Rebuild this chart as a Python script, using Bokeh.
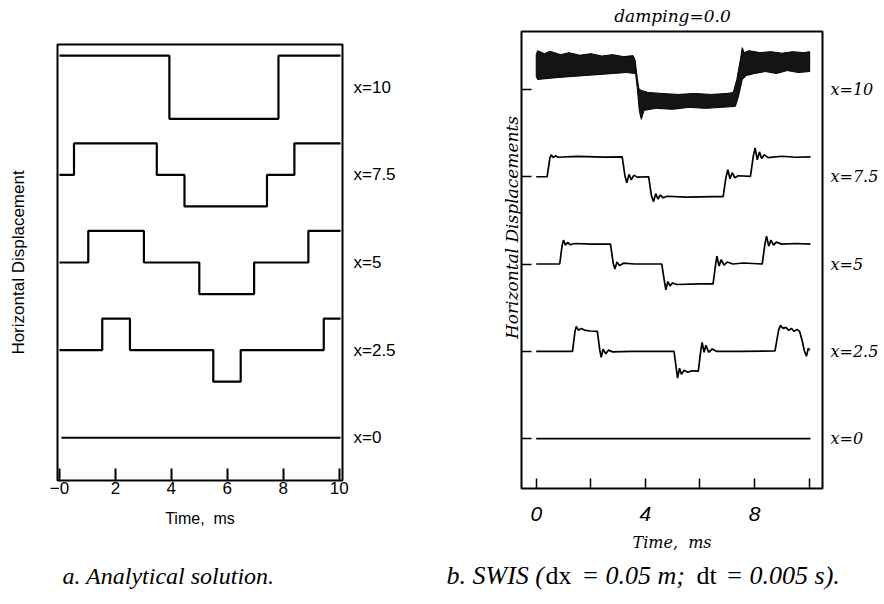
from bokeh.plotting import figure
from bokeh.models import FixedTicker, LinearAxis, Range1d
from bokeh.layouts import row, column
from bokeh.core.properties import value
from bokeh.embed import file_html
from bokeh.resources import INLINE

# ---------------- data ----------------
positions = [0, 2.5, 5, 7.5, 10]
position_labels = {0: "x=0", 2.5: "x=2.5", 5: "x=5", 7.5: "x=7.5", 10: "x=10"}
time_ticks = [0, 2, 4, 6, 8, 10]

# (a) analytical solution: switching times (ms) and levels between them
an_x0_times = []
an_x0_levels = [0]
an_x25_times = [1.53, 2.52, 5.50, 6.48, 9.45]
an_x25_levels = [0, 1, 0, -1, 0, 1]
an_x5_times = [1.03, 3.02, 5.00, 6.96, 8.90]
an_x5_levels = [0, 1, 0, -1, 0, 1]
an_x75_times = [0.52, 3.48, 4.47, 7.42, 8.40]
an_x75_levels = [0, 1, 0, -1, 0, 1]
an_x10_times = [3.93, 7.83]
an_x10_levels = [1, -1, 1]

# (b) SWIS numerical solution, (time, displacement)
swis_x0 = [(0.0, 0.0), (10.05, 0.0)]
swis_x25 = [(0, 0), (1.33, 0), (1.42, 1.0), (1.47, 1.25), (1.55, 1.05), (1.65, 1.15), (1.8, 1.05),
            (2.0, 1.02), (2.24, 1.0), (2.33, 0.05), (2.38, -0.3), (2.45, 0.1), (2.55, -0.12),
            (2.65, 0.06), (2.8, -0.03), (3.5, 0.0), (5.05, 0.0), (5.14, -0.95), (5.18, -1.35),
            (5.25, -0.85), (5.32, -1.15), (5.42, -0.95), (5.55, -1.05), (5.7, -0.98), (5.94, -1.0),
            (6.03, 0.05), (6.08, 0.45), (6.15, -0.05), (6.22, 0.3), (6.32, -0.05), (6.45, 0.12),
            (6.6, 0.0), (7.5, 0.0), (8.75, 0.02), (8.88, 1.05), (8.95, 1.3), (9.05, 1.15),
            (9.15, 1.2), (9.25, 1.05), (9.35, 1.15), (9.45, 1.0), (9.55, 1.1), (9.65, 1.0),
            (9.75, 0.5), (9.82, 0.05), (9.9, -0.25), (9.97, 0.15), (10.02, 0.05)]
swis_x5 = [(0, 0), (0.86, 0), (0.95, 0.95), (1.0, 1.2), (1.07, 0.95), (1.15, 1.08), (1.25, 0.97),
           (1.4, 1.03), (2.0, 1.0), (2.72, 1.0), (2.82, 0.05), (2.88, -0.25), (2.96, 0.1),
           (3.05, -0.08), (3.2, 0.04), (3.6, 0.0), (4.6, 0.0), (4.7, -0.9), (4.75, -1.3),
           (4.82, -0.88), (4.9, -1.1), (5.0, -0.95), (5.15, -1.03), (6.0, -1.0), (6.48, -1.0),
           (6.58, 0.05), (6.62, 0.4), (6.7, -0.1), (6.78, 0.22), (6.88, -0.05), (7.0, 0.1),
           (7.2, 0.0), (7.6, 0.05), (8.28, 0.0), (8.38, 1.0), (8.44, 1.4), (8.52, 0.9),
           (8.6, 1.2), (8.7, 0.95), (8.8, 1.1), (9.0, 1.0), (9.5, 1.03), (10.05, 1.0)]
swis_x75 = [(0, 0), (0.40, 0), (0.50, 0.95), (0.55, 1.10), (0.62, 0.96), (0.70, 1.05), (0.80, 0.98),
            (1.5, 1.02), (2.5, 0.99), (3.15, 1.0), (3.25, 0.05), (3.32, -0.30), (3.40, 0.12),
            (3.48, -0.15), (3.58, 0.08), (3.70, -0.02), (4.12, 0.0), (4.22, -0.95), (4.30, -1.25),
            (4.38, -0.85), (4.46, -1.12), (4.55, -0.92), (4.65, -1.06), (4.80, -0.98), (5.5, -1.02),
            (6.5, -1.0), (6.85, -1.0), (6.95, -0.05), (7.02, 0.35), (7.10, -0.10), (7.18, 0.20),
            (7.28, -0.05), (7.40, 0.05), (7.85, 0.02), (7.95, 1.0), (8.02, 1.45), (8.10, 0.85),
            (8.18, 1.25), (8.26, 0.92), (8.36, 1.10), (8.50, 0.96), (9.0, 1.03), (9.5, 0.98),
            (10.05, 1.0)]
# x=10: dense oscillation band, upper envelope left->right, lower envelope right->left
swis_x10_upper = [(0.0, 1.75), (0.05, 1.95), (0.3, 1.8), (0.5, 1.92), (0.9, 1.75), (1.2, 1.85),
                  (1.6, 1.72), (2.0, 1.8), (2.4, 1.68), (2.8, 1.75), (3.2, 1.65), (3.55, 1.7),
                  (3.62, 1.5), (3.7, 0.6), (3.76, 0.05), (3.85, -0.05), (4.1, -0.15), (4.6, -0.2),
                  (5.2, -0.25), (5.8, -0.2), (6.4, -0.25), (7.0, -0.2), (7.22, -0.15), (7.35, 0.5),
                  (7.48, 1.5), (7.55, 2.1), (7.62, 1.85), (7.8, 1.95), (8.2, 1.85), (8.6, 1.9),
                  (9.0, 1.82), (9.4, 1.9), (9.8, 1.85), (10.02, 1.9)]
swis_x10_lower = [(10.02, 0.9), (9.6, 0.85), (9.2, 0.95), (8.8, 0.8), (8.4, 0.9), (8.0, 0.8),
                  (7.7, 0.7), (7.55, 0.5), (7.42, -0.3), (7.3, -0.85), (6.8, -0.9), (6.2, -0.95),
                  (5.6, -0.9), (5.0, -1.0), (4.4, -0.95), (3.95, -1.05), (3.85, -1.5), (3.78, -1.1),
                  (3.7, 0.1), (3.64, 0.8), (3.3, 0.85), (2.8, 0.8), (2.3, 0.75), (1.8, 0.7),
                  (1.3, 0.65), (0.8, 0.6), (0.4, 0.55), (0.05, 0.5), (0.0, 0.65)]

title_b = "damping=0.0"
caption_a = "a. Analytical solution."
caption_b_parts = ["b. SWIS (", "dx", "= 0.05 m;", "dt", "= 0.005 s)."]
caption_b_styles = ["italic", "normal", "italic", "normal", "italic"]

# ---------------- layout constants (pixels) ----------------
W, H = 884, 604
W1, W2 = 440, 444
TOP_H, BOT_H = 28, 44
MAIN_H = H - TOP_H - BOT_H
AMP_A = 0.9     # trace amplitude in panel (a), in units of the position axis
AMP_B = 0.57    # trace amplitude in panel (b)


def step_xy(times, levels, t0, t1):
    xs, ys = [t0], [levels[0]]
    for t, a, b in zip(times, levels[:-1], levels[1:]):
        xs += [t, t]
        ys += [a, b]
    xs.append(t1)
    ys.append(levels[-1])
    return xs, ys


def style_common(p):
    p.grid.visible = False
    p.outline_line_color = "black"
    p.outline_line_width = 2
    p.background_fill_color = "white"
    p.border_fill_color = "white"
    for ax in p.axis:
        ax.axis_line_color = None
        ax.minor_tick_line_color = None
        ax.major_tick_out = 0
        ax.major_tick_line_color = "black"
        ax.major_label_text_color = "black"
        ax.axis_label_text_color = "black"


def strip(height):
    s = figure(width=W, height=height, x_range=Range1d(0, W), y_range=Range1d(0, height),
               x_axis_type=None, y_axis_type=None, output_backend="svg", toolbar_location=None,
               min_border=0)
    s.grid.visible = False
    s.outline_line_color = None
    return s


# ---------------- top strip: title of panel (b) ----------------
top = strip(TOP_H)
top.text(x=[672], y=[TOP_H - 15], text=[title_b], text_font=value("DejaVu Serif"),
         text_font_style=value("italic"), text_font_size=value("17px"), text_color="black",
         text_align="center", text_baseline="middle")

# ---------------- panel (a) ----------------
L1, R1, T1, B1 = 57, 342, 44 - TOP_H, 480 - TOP_H
xr1, yr1 = Range1d(-0.07, 10.12), Range1d(-1.22, 11.22)
p1 = figure(width=W1, height=MAIN_H, x_range=xr1, y_range=yr1,
            output_backend="svg", toolbar_location=None,
            min_border_left=L1, min_border_right=W1 - R1, min_border_top=T1,
            min_border_bottom=MAIN_H - B1)
style_common(p1)

an_traces = [(0, an_x0_times, an_x0_levels, 0.07), (2.5, an_x25_times, an_x25_levels, 0.0),
             (5, an_x5_times, an_x5_levels, 0.0), (7.5, an_x75_times, an_x75_levels, 0.0),
             (10, an_x10_times, an_x10_levels, 0.0)]
for base, times, levels, t0 in an_traces:
    xs, ys = step_xy(times, levels, t0, 10.05)
    p1.line(xs, [base + AMP_A * v for v in ys], line_color="black", line_width=2.2)

xa = p1.xaxis[0]
xa.ticker = FixedTicker(ticks=time_ticks)
xa.major_label_overrides = {0: "\u22120"}
xa.major_tick_in = 12
xa.major_tick_line_width = 2
xa.major_label_standoff = 1
xa.major_label_text_font = "Liberation Sans"
xa.major_label_text_font_size = "17px"
xa.axis_label = "Time,\u00a0 ms"
xa.axis_label_text_font = "Liberation Sans"
xa.axis_label_text_font_style = "normal"
xa.axis_label_text_font_size = "16px"
xa.axis_label_standoff = 13

ya = p1.yaxis[0]
ya.ticker = FixedTicker(ticks=[])
ya.major_tick_in = 0
ya.major_label_standoff = 0
ya.axis_label = "Horizontal Displacement"
ya.axis_label_text_font = "Liberation Sans"
ya.axis_label_text_font_style = "normal"
ya.axis_label_text_font_size = "17px"
ya.axis_label_standoff = 30

ra = LinearAxis(ticker=FixedTicker(ticks=positions), major_label_overrides=position_labels,
                axis_line_color=None, major_tick_line_color=None, minor_tick_line_color=None,
                major_tick_out=0, major_tick_in=0, major_label_standoff=11,
                major_label_text_color="black",
                major_label_text_font="Liberation Sans", major_label_text_font_size="17px")
p1.add_layout(ra, "right")

# ---------------- panel (b) ----------------
L2, R2, T2, B2 = 521 - W1, 822 - W1, 31 - TOP_H, 488 - TOP_H
xr2, yr2 = Range1d(-0.54, 10.49), Range1d(-1.43, 11.66)
p2 = figure(width=W2, height=MAIN_H, x_range=xr2, y_range=yr2,
            output_backend="svg", toolbar_location=None,
            min_border_left=L2, min_border_right=W2 - R2, min_border_top=T2,
            min_border_bottom=MAIN_H - B2)
style_common(p2)

tx = [t for t, _ in swis_x10_upper] + [t for t, _ in swis_x10_lower]
ty = [10 + AMP_B * v for _, v in swis_x10_upper] + [10 + AMP_B * v for _, v in swis_x10_lower]
p2.patch(tx, ty, fill_color="black", fill_alpha=0.92, line_color="black", line_width=1)

for base, trace in [(0, swis_x0), (2.5, swis_x25), (5, swis_x5), (7.5, swis_x75)]:
    p2.line([t for t, _ in trace], [base + AMP_B * v for _, v in trace],
            line_color="black", line_width=1.7)

xb = p2.xaxis[0]
xb.ticker = FixedTicker(ticks=time_ticks)
xb.major_label_overrides = {2: "", 6: "", 10: ""}
xb.major_tick_in = 10
xb.major_tick_line_width = 1.5
xb.major_label_standoff = 18
xb.major_label_text_font = "Liberation Sans"
xb.major_label_text_font_style = "italic"
xb.major_label_text_font_size = "21px"
xb.axis_label = "Time,\u00a0 ms"
xb.axis_label_text_font = "DejaVu Serif"
xb.axis_label_text_font_style = "italic"
xb.axis_label_text_font_size = "16px"
xb.axis_label_standoff = 9

yb = p2.yaxis[0]
yb.ticker = FixedTicker(ticks=positions)
yb.major_label_overrides = {0: "", 2.5: "", 5: "", 7.5: "", 10: ""}
yb.major_tick_in = 10
yb.major_tick_line_width = 1.5
yb.major_label_standoff = 0
# leading no-break spaces lift the centred title to where the original sits
yb.axis_label = "\u00a0" * 12 + "Horizontal Displacements"
yb.axis_label_text_font = "DejaVu Serif"
yb.axis_label_text_font_style = "italic"
yb.axis_label_text_font_size = "17px"
yb.axis_label_standoff = 0

rb = LinearAxis(ticker=FixedTicker(ticks=positions), major_label_overrides=position_labels,
                axis_line_color=None, major_tick_line_color=None, minor_tick_line_color=None,
                major_tick_out=0, major_tick_in=0, major_label_standoff=8,
                major_label_text_color="black",
                major_label_text_font="DejaVu Serif", major_label_text_font_style="italic",
                major_label_text_font_size="16px")
p2.add_layout(rb, "right")

# ---------------- bottom strip: captions ----------------
bot = strip(BOT_H)
cap_y = H - 575
bot.text(x=[62], y=[cap_y], text=[caption_a], text_font=value("Liberation Serif"),
         text_font_style=value("italic"), text_font_size=value("24px"), text_color="black",
         text_align="left", text_baseline="middle")
cap_b_x = [446, 545, 581, 696, 725]
for txt, style, px in zip(caption_b_parts, caption_b_styles, cap_b_x):
    bot.text(x=[px], y=[cap_y], text=[txt], text_font=value("Liberation Serif"),
             text_font_style=value(style), text_font_size=value("26px"), text_color="black",
             text_align="left", text_baseline="middle")

# each panel sits in its own column so that the two frames are not aligned to each other
layout = column(top, row(column(p1), column(p2)), bot)
open("out.html", "w").write(file_html(layout, INLINE))
